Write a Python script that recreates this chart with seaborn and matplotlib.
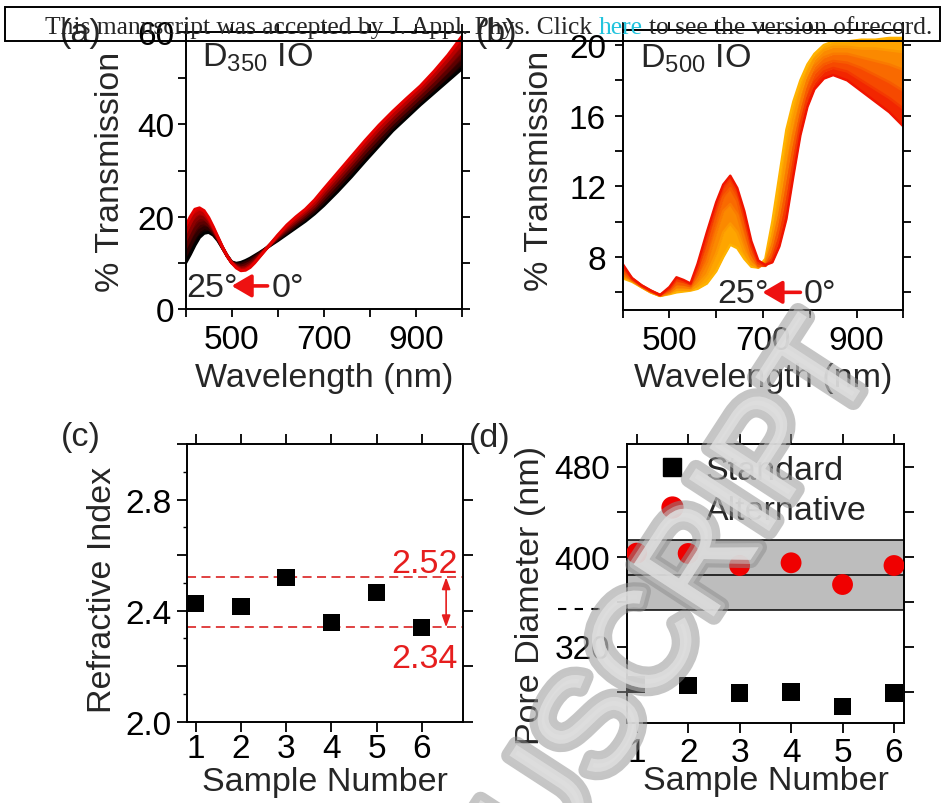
import numpy as np
import pandas as pd
import matplotlib
matplotlib.use("Agg")
import matplotlib.pyplot as plt
import matplotlib.patheffects as pe
from matplotlib.patches import Rectangle
from matplotlib.lines import Line2D
from matplotlib.ticker import FixedLocator, FuncFormatter, MultipleLocator
from matplotlib.colors import to_rgb
import seaborn as sns

# ------------------------------------------------------------------ data
angles = ["0°", "5°", "10°", "15°", "20°", "25°"]

# (a) D350 inverse opal, % transmission vs wavelength for each tilt angle
wl_350 = [400, 410, 420, 430, 440, 450, 460, 470, 480, 490, 500, 510, 520, 530,
          540, 550, 560, 580, 600, 620, 640, 660, 680, 700, 730, 760, 790, 820,
          850, 880, 910, 940, 970, 1000]
t350_00 = [18.0, 20.0, 21.6, 21.9, 21.3, 19.8, 17.8, 15.6, 13.4, 11.5, 10.0, 8.9, 8.3, 8.4,
           9.0, 10.0, 11.2, 13.6, 16.0, 18.2, 20.0, 21.6, 23.6, 26.0, 29.5, 33.0, 36.5, 39.8,
           42.8, 45.6, 48.3, 51.5, 55.0, 59.0]
t350_05 = [16.5, 18.6, 20.3, 20.9, 20.5, 19.3, 17.5, 15.5, 13.4, 11.5, 10.0, 9.1, 8.6, 8.7,
           9.3, 10.2, 11.3, 13.6, 15.8, 17.8, 19.5, 21.1, 22.9, 25.3, 28.7, 32.1, 35.6, 38.9,
           41.9, 44.7, 47.5, 50.6, 53.9, 57.6]
t350_10 = [14.9, 17.0, 19.0, 19.9, 19.7, 18.7, 17.2, 15.3, 13.3, 11.5, 10.0, 9.3, 8.9, 9.1,
           9.7, 10.5, 11.5, 13.6, 15.6, 17.4, 19.0, 20.6, 22.3, 24.6, 27.9, 31.3, 34.8, 38.0,
           41.1, 43.9, 46.7, 49.6, 52.8, 56.2]
t350_15 = [13.3, 15.4, 17.3, 18.5, 18.7, 18.1, 16.8, 15.1, 13.3, 11.5, 10.1, 9.5, 9.3, 9.6,
           10.1, 10.9, 11.8, 13.6, 15.4, 17.0, 18.6, 20.1, 21.8, 23.9, 27.1, 30.5, 33.9, 37.1,
           40.2, 43.0, 45.8, 48.6, 51.6, 54.8]
t350_20 = [11.6, 13.6, 15.6, 17.0, 17.6, 17.4, 16.4, 15.0, 13.2, 11.5, 10.1, 9.7, 9.7, 10.1,
           10.6, 11.3, 12.0, 13.5, 15.1, 16.6, 18.1, 19.6, 21.2, 23.2, 26.3, 29.6, 33.0, 36.2,
           39.4, 42.2, 45.0, 47.7, 50.5, 53.4]
t350_25 = [10.0, 11.8, 13.8, 15.5, 16.4, 16.6, 16.0, 14.8, 13.2, 11.6, 10.2, 9.9, 10.1, 10.5,
           11.0, 11.6, 12.2, 13.5, 14.8, 16.2, 17.6, 19.0, 20.6, 22.4, 25.4, 28.6, 32.0, 35.3,
           38.6, 41.4, 44.2, 46.8, 49.4, 52.0]

# (b) D500 inverse opal
wl_500 = [400, 420, 440, 460, 480, 500, 515, 530, 545, 560, 580, 600, 615, 630, 645,
          660, 675, 690, 705, 720, 735, 750, 765, 780, 795, 810, 830, 850, 880, 910,
          940, 970, 1000]
t500_00 = [7.6, 6.8, 6.4, 6.1, 5.85, 6.3, 6.85, 6.7, 6.5, 7.6, 9.4, 11.1, 12.1, 12.6, 11.9,
           10.6, 8.9, 7.8, 7.55, 7.7, 8.6, 10.15, 12.6, 14.9, 16.5, 17.5, 18.1, 18.3, 18.0, 17.4,
           16.8, 16.2, 15.4]
t500_05 = [7.4, 6.8, 6.4, 6.1, 5.85, 6.2, 6.7, 6.6, 6.45, 7.3, 9.0, 10.8, 11.9, 12.4, 11.7,
           10.2, 8.6, 7.65, 7.5, 7.9, 9.1, 10.9, 13.3, 15.5, 17.0, 17.9, 18.5, 18.7, 18.5, 18.0,
           17.5, 17.0, 16.4]
t500_10 = [7.2, 6.7, 6.35, 6.05, 5.85, 6.1, 6.5, 6.45, 6.35, 7.0, 8.4, 10.2, 11.4, 11.9, 11.2,
           9.7, 8.2, 7.5, 7.5, 8.2, 9.7, 11.8, 14.1, 16.0, 17.5, 18.4, 18.9, 19.1, 19.0, 18.7,
           18.3, 17.9, 17.4]
t500_15 = [7.0, 6.7, 6.35, 6.05, 5.8, 6.0, 6.3, 6.3, 6.25, 6.7, 7.7, 9.4, 10.6, 11.0, 10.4,
           9.0, 7.9, 7.45, 7.6, 8.7, 10.4, 12.7, 14.9, 16.6, 18.0, 18.8, 19.3, 19.5, 19.5, 19.3,
           19.1, 18.9, 18.6]
t500_20 = [6.9, 6.65, 6.3, 6.0, 5.8, 5.95, 6.15, 6.15, 6.15, 6.4, 7.0, 8.2, 9.4, 9.9, 9.4,
           8.3, 7.6, 7.4, 7.7, 9.2, 11.1, 13.8, 15.8, 17.3, 18.4, 19.2, 19.7, 19.9, 19.9, 19.8,
           19.8, 19.7, 19.6]
t500_25 = [6.8, 6.6, 6.3, 6.0, 5.8, 5.9, 6.0, 6.05, 6.1, 6.2, 6.5, 7.2, 8.0, 8.7, 8.5,
           7.9, 7.45, 7.4, 7.9, 10.0, 12.6, 15.2, 16.8, 18.0, 18.9, 19.5, 20.0, 20.2, 20.2, 20.3,
           20.3, 20.4, 20.4]

# (c) refractive index per sample
samples = [1, 2, 3, 4, 5, 6]
refr_index = [2.425, 2.415, 2.52, 2.358, 2.465, 2.34]

# (d) pore diameters (nm)
pore_standard = [286.2, 285.3, 278.6, 279.5, 266.7, 278.6]
pore_alternative = [403.0, 402.7, 392.0, 394.4, 375.1, 392.0]
band_low, band_mid, band_high = 352.6, 383.7, 414.8

colors_350 = ["#e60000", "#b80000", "#8a0000", "#5c0000", "#2e0000", "#000000"]
colors_500 = ["#f01400", "#f43800", "#f75a00", "#fa7a00", "#fc9800", "#ffb300"]

# ------------------------------------------------------------------ style
sns.set_style("ticks")
plt.rcParams.update({
    "font.family": ["Liberation Sans", "DejaVu Sans"],
    "mathtext.fontset": "custom",
    "mathtext.rm": "Liberation Sans",
    "mathtext.it": "Liberation Sans:italic",
    "axes.linewidth": 1.4,
    "axes.edgecolor": "black",
    "xtick.color": "black",
    "ytick.color": "black",
    "xtick.direction": "out",
    "ytick.direction": "out",
    "xtick.major.width": 1.3,
    "ytick.major.width": 1.3,
    "xtick.minor.width": 1.0,
    "ytick.minor.width": 1.0,
    "xtick.major.size": 6,
    "ytick.major.size": 6,
    "font.size": 24,
})
FS_TICK = 24
FS_LAB = 24.5

W, H = 945, 804
fig = plt.figure(figsize=(W / 100, H / 100), dpi=100)


def px_axes(left, top, right, bottom):
    return fig.add_axes([left / W, 1 - bottom / H, (right - left) / W, (bottom - top) / H])


def label_some(keep, fmt="{:g}"):
    return FuncFormatter(lambda v, p: fmt.format(v) if any(abs(v - k) < 1e-6 for k in keep) else "")


def blend(c1, c2):
    a, b = np.array(to_rgb(c1)), np.array(to_rgb(c2))
    return tuple((a + b) / 2)


def spectra(ax, wl, curves, colors, lw):
    rows = []
    for ang, vals in zip(angles, curves):
        rows += [(w, v, ang) for w, v in zip(wl, vals)]
    df = pd.DataFrame(rows, columns=["wl", "T", "angle"])
    for i in range(len(curves) - 1):
        ax.fill_between(wl, curves[i], curves[i + 1], color=blend(colors[i], colors[i + 1]),
                        lw=0, zorder=1)
    sns.lineplot(data=df, x="wl", y="T", hue="angle", hue_order=angles[::-1],
                 palette=dict(zip(angles, colors)), estimator=None, lw=lw,
                 legend=False, ax=ax, zorder=2)


def common(ax):
    ax.tick_params(which="both", top=True, right=True, labeltop=False, labelright=False,
                   labelsize=FS_TICK)
    ax.set_xlabel("")
    ax.set_ylabel("")


# ------------------------------------------------------------------ (a)
ax_a = px_axes(185.7, 33, 461.7, 310)
spectra(ax_a, wl_350, [t350_00, t350_05, t350_10, t350_15, t350_20, t350_25], colors_350, 2.2)
common(ax_a)
ax_a.set_xlim(400, 1000)
ax_a.set_ylim(0, 60)
ax_a.xaxis.set_major_locator(FixedLocator(range(400, 1001, 100)))
ax_a.xaxis.set_major_formatter(label_some([500, 700, 900]))
ax_a.yaxis.set_major_locator(FixedLocator(range(0, 61, 10)))
ax_a.yaxis.set_major_formatter(label_some([0, 20, 40, 60]))
ax_a.tick_params(axis="x", pad=5)
ax_a.tick_params(axis="y", pad=2)
ax_a.set_xlabel("Wavelength (nm)", fontsize=FS_LAB)
ax_a.set_ylabel("% Transmission", fontsize=FS_LAB)
ax_a.xaxis.set_label_coords(0.5, -0.19)
ax_a.yaxis.set_label_coords(-0.215, 0.5)
ax_a.text(0.058, 0.878, r"D$_{350}$ IO", transform=ax_a.transAxes, fontsize=FS_LAB,
          ha="left", va="baseline")
ax_a.text(402, 2.9, "25°", fontsize=FS_LAB, ha="left", va="baseline", zorder=5)
ax_a.text(587, 2.9, "0°", fontsize=FS_LAB, ha="left", va="baseline", zorder=5)
ax_a.annotate("", xy=(500, 5.0), xytext=(578, 5.0),
              arrowprops=dict(arrowstyle="-|>,head_length=0.6,head_width=0.35",
                              color="#ee1111", lw=2.6, mutation_scale=20, shrinkA=0, shrinkB=0),
              zorder=5)

# ------------------------------------------------------------------ (b)
ax_b = px_axes(622.7, 31, 903.3, 311)
spectra(ax_b, wl_500, [t500_00, t500_05, t500_10, t500_15, t500_20, t500_25], colors_500, 1.8)
common(ax_b)
ax_b.set_xlim(400, 1000)
ax_b.set_ylim(5, 20.85)
ax_b.xaxis.set_major_locator(FixedLocator(range(400, 1001, 100)))
ax_b.xaxis.set_major_formatter(label_some([500, 700, 900]))
ax_b.yaxis.set_major_locator(FixedLocator(range(6, 21, 2)))
ax_b.yaxis.set_major_formatter(label_some([8, 12, 16, 20]))
ax_b.tick_params(axis="x", pad=5)
ax_b.tick_params(axis="y", pad=6)
ax_b.set_xlabel("Wavelength (nm)", fontsize=FS_LAB)
ax_b.set_ylabel("% Transmission", fontsize=FS_LAB)
ax_b.xaxis.set_label_coords(0.5, -0.185)
ax_b.yaxis.set_label_coords(-0.24, 0.5)
ax_b.text(0.062, 0.871, r"D$_{500}$ IO", transform=ax_b.transAxes, fontsize=FS_LAB,
          ha="left", va="baseline")
ax_b.text(602, 5.45, "25°", fontsize=FS_LAB, ha="left", va="baseline", zorder=5)
ax_b.text(786, 5.45, "0°", fontsize=FS_LAB, ha="left", va="baseline", zorder=5)
ax_b.annotate("", xy=(699, 6.0), xytext=(780, 6.0),
              arrowprops=dict(arrowstyle="-|>,head_length=0.6,head_width=0.35",
                              color="#ee1111", lw=2.6, mutation_scale=20, shrinkA=0, shrinkB=0),
              zorder=5)

# ------------------------------------------------------------------ (c)
ax_c = px_axes(186.7, 445, 463.3, 722.7)
ri_hi, ri_lo = max(refr_index), min(refr_index)
for lvl in (ri_hi, ri_lo):
    ax_c.axhline(lvl, color="#dd3333", lw=1.3, ls=(0, (5, 3)), zorder=1)
sns.scatterplot(x=samples, y=refr_index, marker="s", s=12.5 ** 2, color="black",
                edgecolor="none", ax=ax_c, legend=False, zorder=3)
common(ax_c)
ax_c.set_xlim(0.8, 6.92)
ax_c.set_ylim(2.0, 3.0)
ax_c.xaxis.set_major_locator(FixedLocator(samples))
ax_c.yaxis.set_major_locator(FixedLocator(np.round(np.arange(2.0, 3.01, 0.2), 1)))
ax_c.yaxis.set_major_formatter(label_some([2.0, 2.4, 2.8], "{:.1f}"))
ax_c.yaxis.set_minor_locator(MultipleLocator(0.1))
ax_c.tick_params(which="major", length=7)
ax_c.tick_params(axis="y", which="minor", left=True, right=False, length=3)
ax_c.tick_params(axis="x", pad=1)
ax_c.tick_params(axis="y", pad=4)
ax_c.set_xlabel("Sample Number", fontsize=FS_LAB)
ax_c.set_ylabel("Refractive Index", fontsize=FS_LAB)
ax_c.xaxis.set_label_coords(0.5, -0.16)
ax_c.yaxis.set_label_coords(-0.25, 0.478)
ax_c.annotate("", xy=(6.54, ri_lo), xytext=(6.54, ri_hi),
              arrowprops=dict(arrowstyle="<|-|>,head_length=0.5,head_width=0.18",
                              color="#e61e1e", lw=1.2, mutation_scale=14, shrinkA=0, shrinkB=0))
ax_c.text(0.981, 0.539, f"{ri_hi:.2f}", transform=ax_c.transAxes, color="#e61e1e",
          fontsize=FS_LAB, ha="right", va="baseline")
ax_c.text(0.981, 0.197, f"{ri_lo:.2f}", transform=ax_c.transAxes, color="#e61e1e",
          fontsize=FS_LAB, ha="right", va="baseline")

# ------------------------------------------------------------------ (d)
ax_d = px_axes(626.7, 445, 904.3, 724)
ax_d.axhspan(band_low, band_high, color="#bdbdbd", lw=0, zorder=0)
for lvl in (band_low, band_mid, band_high):
    ax_d.axhline(lvl, color="black", lw=1.1, zorder=1)
sns.scatterplot(x=samples, y=pore_standard, marker="s", s=12.5 ** 2, color="black",
                edgecolor="none", ax=ax_d, legend=False, zorder=3)
sns.scatterplot(x=samples, y=pore_alternative, marker="o", s=15 ** 2, color="#f00000",
                edgecolor="none", ax=ax_d, legend=False, zorder=3)
common(ax_d)
ax_d.set_xlim(0.806, 6.2)
ax_d.set_ylim(252, 500)
ax_d.xaxis.set_major_locator(FixedLocator(samples))
ax_d.yaxis.set_major_locator(FixedLocator(range(280, 481, 40)))
ax_d.yaxis.set_major_formatter(label_some([320, 400, 480]))
ax_d.tick_params(which="major", length=7)
ax_d.tick_params(axis="x", pad=3)
ax_d.tick_params(axis="y", pad=5)
ax_d.set_xlabel("Sample Number", fontsize=FS_LAB)
ax_d.set_ylabel("Pore Diameter (nm)", fontsize=FS_LAB)
ax_d.xaxis.set_label_coords(0.5, -0.15)
ax_d.yaxis.set_label_coords(-0.29, 0.462)
# axis-break mark on the left of the y axis
ax_d.plot([-0.247, -0.096], [0.4086, 0.4086], transform=ax_d.transAxes, color="black",
          lw=1.5, ls=(0, (4, 4)), clip_on=False)
handles = [Line2D([], [], marker="s", color="black", ls="none", markersize=12.5),
           Line2D([], [], marker="o", color="#f00000", ls="none", markersize=15)]
ax_d.legend(handles, ["Standard", "Alternative"], loc="upper left",
            bbox_to_anchor=(0.101, 0.962), frameon=False, borderpad=0, borderaxespad=0,
            handlelength=1.0, handletextpad=0.5, labelspacing=0.28, fontsize=FS_LAB)

# ------------------------------------------------------------------ panel letters
for txt, x, y in [("(a)", 60, 42), ("(b)", 476, 42), ("(c)", 61, 446), ("(d)", 469, 447)]:
    fig.text(x / W, 1 - y / H, txt, fontsize=FS_LAB, ha="left", va="baseline")

# ------------------------------------------------------------------ banner
fig.patches.append(Rectangle((5 / W, 1 - 42 / H), 935 / W, 34 / H, transform=fig.transFigure,
                             fill=False, ec="black", lw=1.4, zorder=10))
serif = ["Liberation Serif", "DejaVu Serif"]
part1 = "This manuscript was accepted by J. Appl. Phys. Click"
part3 = "to see the version of record."
fig.canvas.draw()
rend = fig.canvas.get_renderer()
probe = fig.text(0, 0, part1 + " here " + part3, fontsize=10, family=serif)
scale = 885 / probe.get_window_extent(rend).width
probe.remove()
fs_b = 10 * scale
space = 0.25 * fs_b * 100 / 72
y_b = 1 - 34 / H
t1 = fig.text(45 / W, y_b, part1, fontsize=fs_b, family=serif, ha="left", va="baseline", zorder=11)
x2 = t1.get_window_extent(rend).x1 + space
t2 = fig.text(x2 / W, y_b, "here", fontsize=fs_b, family=serif, color="#22c4dd",
              ha="left", va="baseline", zorder=11)
x3 = t2.get_window_extent(rend).x1 + space
fig.text(x3 / W, y_b, part3, fontsize=fs_b, family=serif, ha="left", va="baseline", zorder=11)

# ------------------------------------------------------------------ watermark
fig.text(0.931, 0.550, "ACCEPTED MANUSCRIPT", rotation=57, rotation_mode="anchor",
         ha="right", va="baseline", fontsize=100, color="#e8e8e8", alpha=0.5, zorder=20,
         path_effects=[pe.Stroke(linewidth=12, foreground="#8c8c8c"),
                       pe.Stroke(linewidth=6, foreground="#c8c8c8"),
                       pe.Normal()])

fig.savefig("out.png", dpi=100)
